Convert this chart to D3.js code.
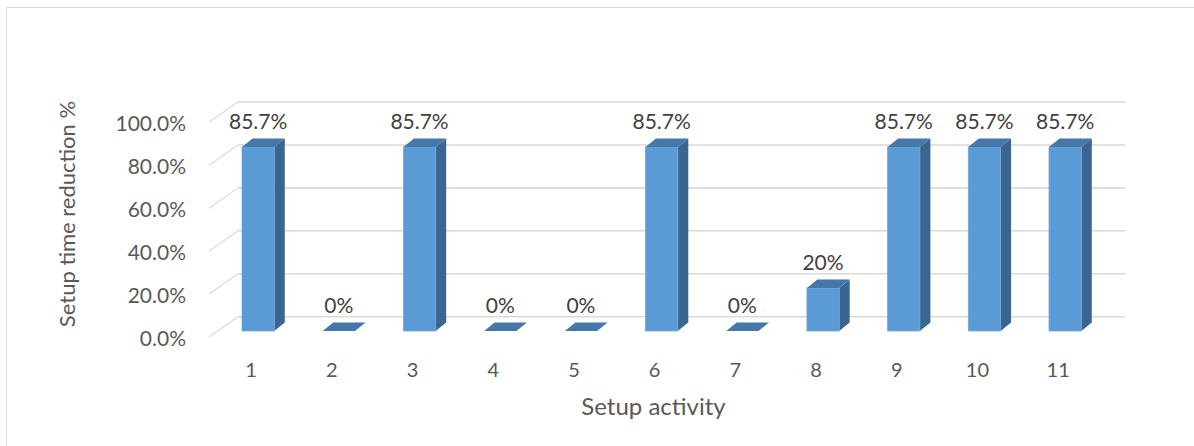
<!DOCTYPE html>
<html>
<head>
<meta charset="utf-8">
<script src="https://cdn.jsdelivr.net/npm/d3@7"></script>
<style>
  html, body { margin: 0; padding: 0; background: #fff; }
  svg { display: block; font-family: Lato, "Noto Sans", sans-serif; }
</style>
</head>
<body>
<svg id="chart" width="1194" height="446"></svg>
<script>
// Setup activities and their time reduction (%)
const activities = ["1", "2", "3", "4", "5", "6", "7", "8", "9", "10", "11"];
const reduction = [85.7, 0, 85.7, 0, 0, 85.7, 0, 20, 85.7, 85.7, 85.7];
const valueLabels = ["85.7%", "0%", "85.7%", "0%", "0%", "85.7%", "0%", "20%", "85.7%", "85.7%", "85.7%"];
const yTicks = [0, 20, 40, 60, 80, 100];

const svg = d3.select("#chart");
const W = 1194, H = 446;

// Chart frame
svg.append("rect")
  .attr("x", 6.5).attr("y", 7.5)
  .attr("width", W + 10).attr("height", H + 10)
  .attr("fill", "#fff").attr("stroke", "#d9d9d9").attr("stroke-width", 1);

// Scales: y drives the bar front plane, x places each category band
const y = d3.scaleLinear().domain([0, 100]).range([331, 116.3]);
const x = d3.scaleBand().domain(activities)
  .range([217.8, 1105.5]).paddingInner(0.6).paddingOuter(0.3);

// 3D depth offsets
const wallBackDy = -14.3;   // back wall relative to bar front plane
const wallFrontDy = 6;      // floor front edge relative to bar front plane
const wallFrontX = 209, wallBackX = 238, wallRightX = 1125;
const barDx = 10.5, barDy = 8.5;

// Gridlines: back wall plus slanted side-wall segments
const grid = svg.append("g");
yTicks.forEach(t => {
  const yb = y(t) + wallBackDy;
  grid.append("line")
    .attr("x1", wallBackX).attr("x2", wallRightX)
    .attr("y1", yb).attr("y2", yb)
    .attr("stroke", "#d9d9d9").attr("stroke-width", 1.6);
  grid.append("line")
    .attr("x1", wallFrontX).attr("y1", y(t) + wallFrontDy)
    .attr("x2", wallBackX).attr("y2", yb)
    .attr("stroke", "#d9d9d9").attr("stroke-width", 1.2);
});

// Y axis tick labels
svg.append("g").selectAll("text")
  .data(yTicks).join("text")
  .attr("x", 186)
  .attr("y", t => y(t) + wallFrontDy + 8.5)
  .attr("text-anchor", "end")
  .attr("font-size", 21)
  .attr("fill", "#595959")
  .text(t => d3.format(".1f")(t) + "%");

// Bars as extruded boxes: front, top and side faces
const bars = svg.append("g").selectAll("g")
  .data(activities.map((a, i) => ({ a, v: reduction[i], label: valueLabels[i] })))
  .join("g");

bars.each(function (d) {
  const g = d3.select(this);
  const x0 = x(d.a), w = x.bandwidth();
  const yt = y(d.v), yb = y(0);
  if (yb - yt > 0.5) {
    g.append("polygon")
      .attr("points", [[x0 + w, yt], [x0 + w + barDx, yt - barDy], [x0 + w + barDx, yb - barDy], [x0 + w, yb]].join(" "))
      .attr("fill", "#3a6591");
    g.append("rect")
      .attr("x", x0).attr("y", yt).attr("width", w).attr("height", yb - yt)
      .attr("fill", "#5b9bd5").attr("stroke", "#6fa8dc").attr("stroke-width", 0.8);
  }
  g.append("polygon")
    .attr("points", [[x0, yt], [x0 + barDx, yt - barDy], [x0 + w + barDx, yt - barDy], [x0 + w, yt]].join(" "))
    .attr("fill", "#4577a8");
});

// Value labels above each bar
bars.append("text")
  .attr("x", d => x(d.a) + x.bandwidth() / 2)
  .attr("y", d => y(d.v) - 18)
  .attr("text-anchor", "middle")
  .attr("font-size", 21)
  .attr("fill", "#404040")
  .text(d => d.label);

// X axis category labels
svg.append("g").selectAll("text")
  .data(activities).join("text")
  .attr("x", a => x(a) + x.bandwidth() / 2 - 7)
  .attr("y", 377)
  .attr("text-anchor", "middle")
  .attr("font-size", 20)
  .attr("fill", "#595959")
  .text(a => a);

// Axis titles
svg.append("text")
  .attr("x", 653.5).attr("y", 415)
  .attr("text-anchor", "middle")
  .attr("font-size", 24)
  .attr("fill", "#595959")
  .text("Setup activity");

svg.append("text")
  .attr("transform", "translate(75,214) rotate(-90)")
  .attr("text-anchor", "middle")
  .attr("font-size", 22)
  .attr("fill", "#595959")
  .text("Setup time reduction %");
</script>
</body>
</html>
